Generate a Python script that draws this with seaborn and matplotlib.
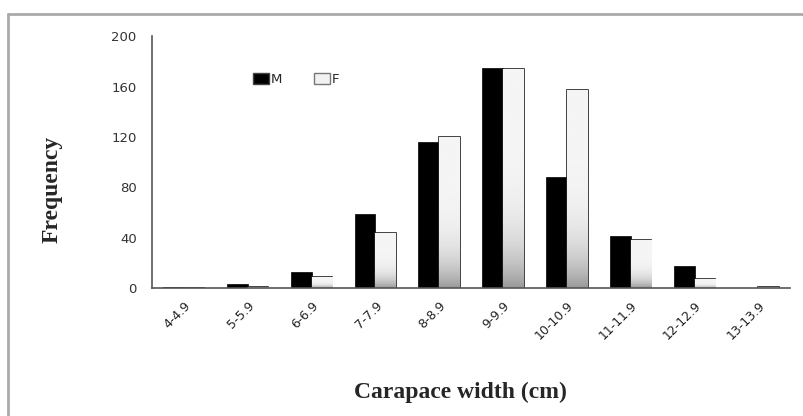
import numpy as np
import pandas as pd
import seaborn as sns
import matplotlib.pyplot as plt
from matplotlib.lines import Line2D
from matplotlib.patches import Patch

# Carapace width classes and frequencies by sex
width_classes = ['4-4.9', '5-5.9', '6-6.9', '7-7.9', '8-8.9', '9-9.9',
                 '10-10.9', '11-11.9', '12-12.9', '13-13.9']
males = [1, 3, 13, 59, 116, 175, 88, 41, 17, 0]
females = [0, 1, 9, 44, 120, 174, 157, 38, 7, 1]

df = pd.DataFrame({
    'width': width_classes * 2,
    'count': males + females,
    'sex': ['M'] * len(males) + ['F'] * len(females),
})

sns.set_style("white")
plt.rcParams['font.family'] = ['DejaVu Sans']

fig = plt.figure(figsize=(8.04, 4.16), dpi=100)
ax = fig.add_axes([0.189, 0.308, 0.794, 0.605])

sns.barplot(data=df, x='width', y='count', hue='sex', order=width_classes,
            hue_order=['M', 'F'], palette={'M': 'black', 'F': '#f4f4f4'},
            width=0.65, ax=ax, legend=False)

# style bars: females get a soft grey gradient towards the base and a dark outline
t = np.linspace(0, 1, 256)
grad = (0.96 - 0.36 * (1 - t) ** 5).reshape(-1, 1)
for bar in ax.containers[0]:
    bar.set_edgecolor('black')
    bar.set_linewidth(0.5)
for bar in ax.containers[1]:
    bar.set_edgecolor('#222222')
    bar.set_linewidth(1.2)
    x0, y0 = bar.get_x(), bar.get_y()
    w, h = bar.get_width(), bar.get_height()
    if h <= 0:
        continue
    im = ax.imshow(grad, cmap='gray', vmin=0, vmax=1,
                   extent=[x0, x0 + w, y0, y0 + h], origin='lower',
                   aspect='auto', zorder=bar.get_zorder() + 0.1)
    im.set_clip_path(bar)

ax.set_xlim(-0.5, len(width_classes) - 0.5)
ax.set_ylim(0, 200)
ax.set_yticks([0, 40, 80, 120, 160, 200])

# ticks on category boundaries
ax.set_xticks(np.arange(-0.5, len(width_classes), 1), minor=True)
ax.tick_params(axis='x', which='major', length=0, pad=8)
ax.tick_params(axis='x', which='minor', length=4, color='#555555', direction='out')
ax.tick_params(axis='y', length=5, color='#999999', direction='out', width=1.5, pad=6)
ax.set_xticks(range(len(width_classes)))
ax.set_xticklabels(width_classes, rotation=45, ha='right', rotation_mode='anchor',
                   fontsize=9, color='#222222')
for lbl in ax.get_yticklabels():
    lbl.set_fontsize(9.5)
    lbl.set_color('#333333')

for s in ['top', 'right']:
    ax.spines[s].set_visible(False)
for s in ['left', 'bottom']:
    ax.spines[s].set_color('#555555')
    ax.spines[s].set_linewidth(1.2)

ax.set_xlabel('Carapace width (cm)', fontsize=17, fontweight='bold',
              family='Liberation Serif')
ax.set_ylabel('Frequency', fontsize=17, fontweight='bold',
              family='Liberation Serif')
ax.xaxis.set_label_coords(0.483, -0.375)
ax.yaxis.set_label_coords(-0.14, 0.39)

handles = [Patch(facecolor='black', edgecolor='#444444', label='M'),
           Patch(facecolor='#f2f2f2', edgecolor='#777777', label='F')]
ax.legend(handles=handles, loc='upper left', bbox_to_anchor=(0.14, 0.90),
          ncol=2, frameon=False, fontsize=9.5, handlelength=1.2, handleheight=0.9,
          handletextpad=0.15, columnspacing=2.4)

# outer grey frame (left and top edges)
fig.add_artist(Line2D([8 / 804, 8 / 804], [0, 1 - 14 / 416],
                      transform=fig.transFigure, color='#aaaaaa', lw=2))
fig.add_artist(Line2D([8 / 804, 1], [1 - 14 / 416, 1 - 14 / 416],
                      transform=fig.transFigure, color='#aaaaaa', lw=2))

fig.savefig('out.png', dpi=100)
